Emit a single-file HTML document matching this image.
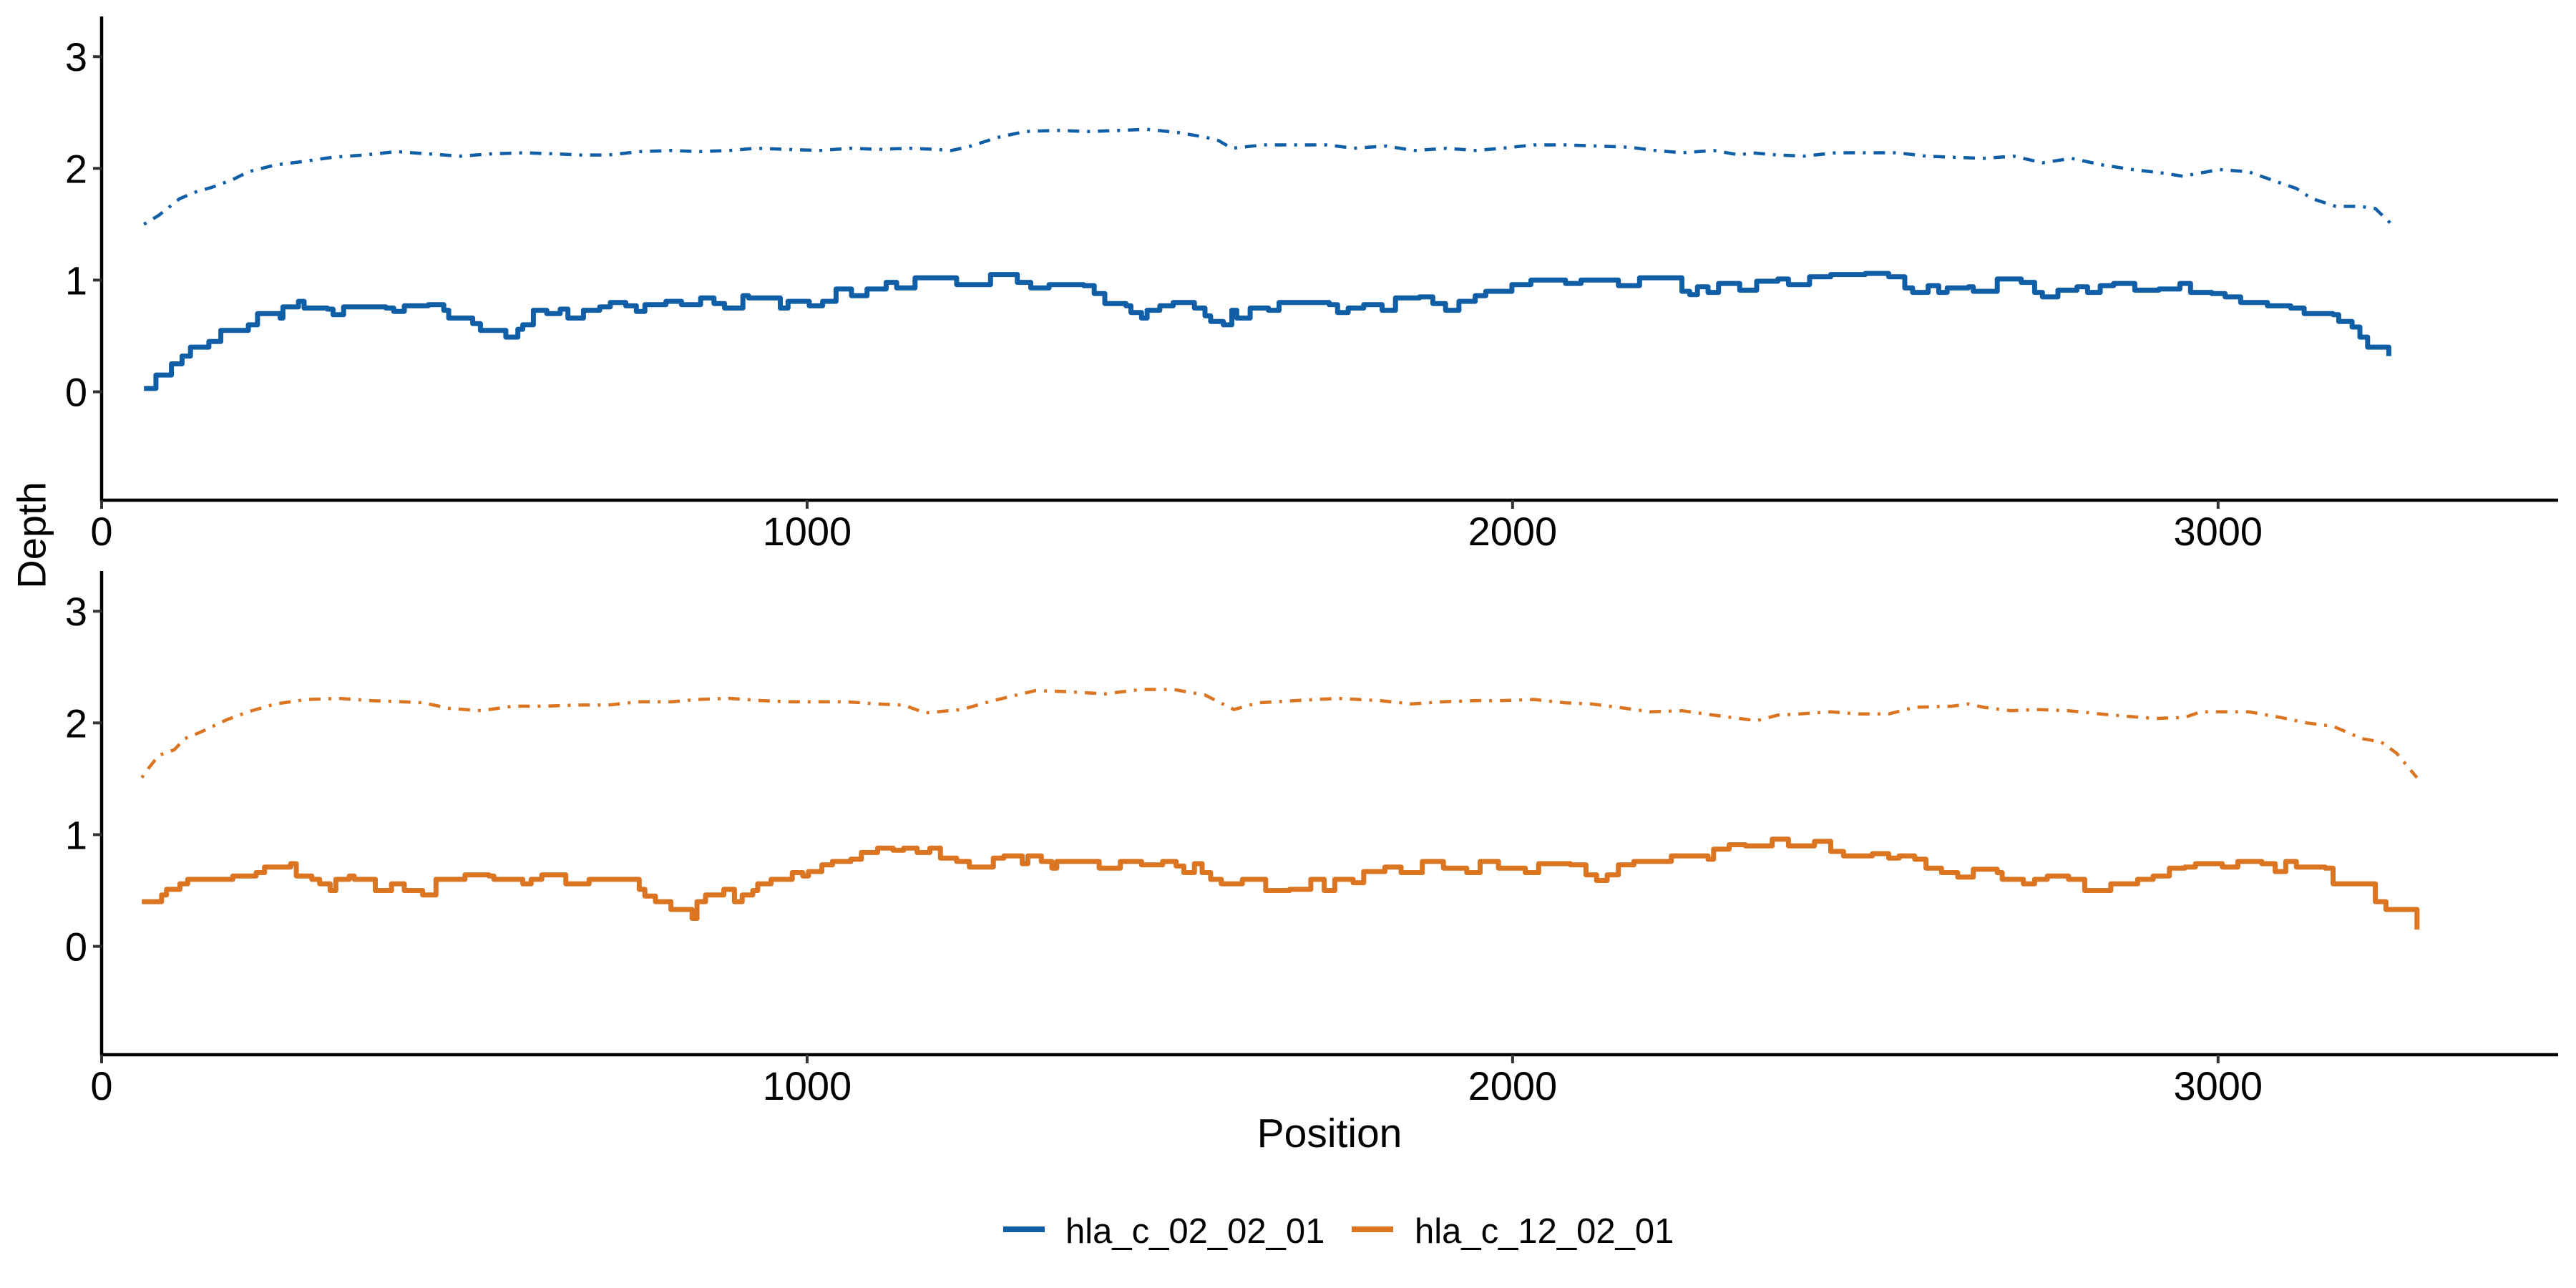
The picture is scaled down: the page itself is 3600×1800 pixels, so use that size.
<!DOCTYPE html>
<html><head><meta charset="utf-8"><style>
html,body{margin:0;padding:0;background:#fff;}
svg{display:block;font-family:"Liberation Sans",Arial,sans-serif;}
</style></head><body>
<svg id="chart" width="3600" height="1800" viewBox="0 0 3600 1800" xmlns="http://www.w3.org/2000/svg">
<g id="panels"></g>
<text x="44" y="748" font-size="56" text-anchor="middle" dominant-baseline="central" transform="rotate(-90 44 748)">Depth</text>
<text x="1858" y="1603" font-size="57" text-anchor="middle">Position</text>
<g>
<line x1="1402" y1="1718" x2="1460" y2="1718" stroke="#105EA6" stroke-width="8"/>
<text x="1489" y="1737" font-size="49">hla_c_02_02_01</text>
<line x1="1889" y1="1718" x2="1947" y2="1718" stroke="#DB7521" stroke-width="8"/>
<text x="1977" y="1737" font-size="49">hla_c_12_02_01</text>
</g>
</svg>
<script>
const xTicks = [0, 1000, 2000, 3000];
const yTicks = [0, 1, 2, 3];
const seriesNames = ["hla_c_02_02_01", "hla_c_12_02_01"];
const aSolidPos = [60,77,99,114,126,152,169,208,221,253,257,279,287,320,328,343,403,414,429,463,485,492,515,526,537,567,573,590,597,612,631,650,661,676,683,706,721,743,758,770,800,822,849,868,883,909,917,951,962,973,1003,1022,1041,1063,1085,1112,1127,1153,1174,1212,1242,1260,1287,1298,1317,1343,1392,1407,1422,1452,1459,1474,1482,1500,1519,1549,1564,1572,1590,1602,1609,1628,1654,1669,1740,1752,1767,1789,1815,1834,1868,1887,1905,1924,1947,1962,1988,1999,2026,2075,2097,2150,2180,2213,2240,2251,2262,2277,2292,2322,2346,2376,2391,2421,2451,2500,2533,2556,2567,2589,2604,2616,2646,2653,2687,2721,2740,2751,2773,2800,2815,2833,2852,2882,2916,2946,2961,2991,3010,3032,3070,3103,3122,3163,3171,3190,3201,3212,3238,3242];
const aSolidVal = [0.03,0.15,0.25,0.32,0.40,0.45,0.55,0.60,0.70,0.66,0.76,0.81,0.75,0.74,0.69,0.76,0.75,0.72,0.77,0.78,0.73,0.66,0.66,0.61,0.55,0.55,0.49,0.56,0.60,0.73,0.70,0.74,0.66,0.66,0.73,0.76,0.80,0.77,0.72,0.78,0.81,0.78,0.84,0.79,0.75,0.86,0.84,0.84,0.75,0.81,0.77,0.81,0.92,0.86,0.92,0.98,0.93,1.02,1.02,0.96,0.96,1.05,1.05,0.98,0.93,0.96,0.95,0.88,0.79,0.77,0.71,0.66,0.73,0.77,0.80,0.75,0.68,0.63,0.60,0.73,0.66,0.75,0.73,0.80,0.78,0.71,0.75,0.78,0.73,0.84,0.85,0.79,0.73,0.81,0.86,0.90,0.90,0.96,1.00,0.97,1.00,0.95,1.02,1.02,0.90,0.87,0.94,0.89,0.97,0.91,0.99,1.01,0.96,1.03,1.05,1.06,1.03,0.93,0.89,0.95,0.89,0.93,0.94,0.90,1.01,0.98,0.89,0.85,0.91,0.94,0.89,0.95,0.97,0.91,0.92,0.97,0.89,0.88,0.85,0.80,0.77,0.75,0.70,0.69,0.63,0.58,0.49,0.40,0.40,0.32];
const aDashPos = [60,81,111,134,156,186,208,246,283,328,373,418,463,508,553,598,643,680,718,763,808,845,890,928,973,1018,1063,1100,1145,1182,1204,1227,1272,1309,1354,1399,1444,1482,1527,1564,1583,1602,1647,1692,1737,1775,1820,1861,1906,1947,1985,2030,2075,2120,2165,2202,2240,2285,2322,2338,2376,2413,2458,2500,2545,2586,2623,2668,2710,2751,2792,2837,2878,2920,2950,2976,3002,3043,3088,3111,3133,3167,3201,3223,3246];
const aDashVal = [1.50,1.58,1.73,1.79,1.83,1.90,1.97,2.03,2.06,2.10,2.12,2.15,2.13,2.11,2.13,2.14,2.13,2.12,2.12,2.15,2.16,2.15,2.16,2.18,2.17,2.16,2.18,2.17,2.18,2.17,2.16,2.19,2.28,2.33,2.34,2.33,2.34,2.35,2.32,2.28,2.25,2.18,2.21,2.21,2.21,2.18,2.20,2.16,2.18,2.16,2.18,2.21,2.21,2.20,2.19,2.16,2.14,2.16,2.12,2.14,2.12,2.11,2.14,2.14,2.14,2.11,2.10,2.09,2.11,2.05,2.09,2.03,1.99,1.96,1.93,1.96,1.99,1.97,1.87,1.82,1.73,1.66,1.66,1.64,1.50];
const bSolidPos = [57,81,85,92,111,122,182,186,219,231,261,268,276,298,309,324,332,351,358,388,411,429,455,474,493,515,549,556,590,597,609,624,654,658,684,691,751,762,770,785,807,837,844,856,882,897,908,923,930,949,972,979,994,1002,1021,1036,1062,1077,1100,1122,1137,1156,1174,1189,1212,1230,1253,1264,1279,1305,1313,1332,1347,1354,1399,1414,1444,1474,1504,1523,1534,1549,1560,1572,1587,1617,1650,1684,1714,1733,1748,1774,1789,1819,1842,1872,1902,1935,1954,1980,2018,2037,2082,2104,2119,2134,2150,2172,2202,2225,2262,2277,2285,2307,2330,2368,2391,2428,2451,2469,2492,2510,2533,2548,2570,2586,2608,2631,2653,2687,2694,2724,2740,2758,2788,2811,2848,2886,2908,2931,2953,2968,3006,3028,3062,3081,3096,3111,3152,3163,3216,3223,3238,3276,3282];
const bSolidVal = [0.40,0.40,0.46,0.51,0.56,0.60,0.60,0.63,0.66,0.71,0.71,0.74,0.63,0.60,0.56,0.50,0.60,0.63,0.60,0.50,0.56,0.50,0.46,0.60,0.60,0.64,0.63,0.60,0.60,0.56,0.60,0.64,0.64,0.56,0.56,0.60,0.60,0.51,0.45,0.40,0.33,0.25,0.40,0.46,0.51,0.40,0.46,0.50,0.56,0.60,0.60,0.66,0.63,0.67,0.73,0.76,0.78,0.84,0.88,0.86,0.88,0.84,0.88,0.79,0.76,0.71,0.71,0.79,0.81,0.74,0.81,0.76,0.70,0.76,0.76,0.70,0.76,0.73,0.76,0.72,0.66,0.74,0.66,0.60,0.56,0.60,0.50,0.51,0.60,0.50,0.60,0.57,0.67,0.71,0.66,0.76,0.70,0.66,0.76,0.70,0.66,0.74,0.73,0.64,0.59,0.64,0.73,0.76,0.76,0.81,0.81,0.78,0.87,0.91,0.90,0.96,0.90,0.94,0.85,0.81,0.81,0.83,0.79,0.81,0.78,0.70,0.66,0.62,0.69,0.66,0.60,0.56,0.60,0.63,0.60,0.50,0.56,0.60,0.63,0.70,0.71,0.74,0.71,0.76,0.74,0.67,0.76,0.71,0.70,0.56,0.56,0.40,0.33,0.33,0.15];
const bDashPos = [57,66,81,103,118,141,178,208,246,291,336,381,426,456,493,538,583,628,673,718,763,808,845,890,935,972,1017,1055,1100,1137,1167,1219,1264,1324,1369,1422,1474,1519,1564,1605,1639,1692,1752,1812,1857,1902,1947,1985,2030,2075,2112,2150,2195,2240,2285,2322,2346,2376,2406,2451,2488,2533,2570,2623,2646,2668,2706,2743,2788,2833,2871,2912,2953,2976,3006,3043,3088,3126,3163,3204,3231,3253,3274,3282];
const bDashVal = [1.51,1.59,1.71,1.76,1.86,1.92,2.03,2.10,2.17,2.21,2.22,2.20,2.19,2.18,2.13,2.11,2.15,2.15,2.16,2.16,2.19,2.19,2.21,2.22,2.20,2.19,2.19,2.19,2.17,2.16,2.09,2.12,2.20,2.29,2.28,2.26,2.30,2.30,2.25,2.12,2.18,2.20,2.22,2.20,2.17,2.19,2.20,2.20,2.21,2.18,2.17,2.14,2.10,2.11,2.07,2.04,2.02,2.07,2.08,2.10,2.08,2.08,2.14,2.15,2.17,2.14,2.11,2.12,2.11,2.08,2.06,2.04,2.05,2.10,2.10,2.10,2.05,2.00,1.97,1.86,1.83,1.73,1.57,1.51];

const NS = "http://www.w3.org/2000/svg";
const X0 = 142, X1 = 3575, XMIN = 0, XMAX = 3482;
const YMIN = -0.97, YMAX = 3.36;
const xScale = v => X0 + (v - XMIN) / (XMAX - XMIN) * (X1 - X0);
const panels = [
  {top: 23, bottom: 699, color: "#105EA6", sp: aSolidPos, sv: aSolidVal, dp: aDashPos, dv: aDashVal, key: "top"},
  {top: 798, bottom: 1474, color: "#DB7521", sp: bSolidPos, sv: bSolidVal, dp: bDashPos, dv: bDashVal, key: "bottom"}
];
const root = document.getElementById("panels");
function mk(tag, attrs) {
  const el = document.createElementNS(NS, tag);
  for (const k in attrs) el.setAttribute(k, attrs[k]);
  return el;
}
panels.forEach((p, pi) => {
  const yScale = v => p.bottom - (v - YMIN) / (YMAX - YMIN) * (p.bottom - p.top);
  const g = mk("g", {});
  
  
  root.appendChild(g);
  // dashed series
  let d = "";
  p.dp.forEach((x, i) => { d += (i ? "L" : "M") + xScale(x).toFixed(1) + "," + yScale(p.dv[i]).toFixed(1); });
  const dash = mk("path", {d: d, fill: "none", stroke: p.color, "stroke-width": 4.5, "stroke-dasharray": "4 11 16 11"});
  
  
  g.appendChild(dash);
  // step solid series
  let s = "";
  p.sp.forEach((x, i) => {
    const X = xScale(x).toFixed(1), Y = yScale(p.sv[i]).toFixed(1);
    if (i === 0) s += "M" + X + "," + Y;
    else s += "H" + X + "V" + Y;
  });
  const sol = mk("path", {d: s, fill: "none", stroke: p.color, "stroke-width": 7, "stroke-linejoin": "round"});
  
  
  g.appendChild(sol);
  // axes
  const ya = mk("line", {x1: X0, y1: p.top, x2: X0, y2: p.bottom + 2, stroke: "#000", "stroke-width": 4.5});
  
  
  g.appendChild(ya);
  const xa = mk("line", {x1: X0 - 2, y1: p.bottom, x2: X1, y2: p.bottom, stroke: "#000", "stroke-width": 4.5});
  
  
  g.appendChild(xa);
  yTicks.forEach(t => {
    const y = yScale(t);
    const tk = mk("line", {x1: X0 - 12, y1: y, x2: X0, y2: y, stroke: "#333", "stroke-width": 4});
    
    
    g.appendChild(tk);
    const tl = mk("text", {x: X0 - 20, y: y + 20, "font-size": 56, "text-anchor": "end", fill: "#000"});
    tl.textContent = String(t);
    
    
    g.appendChild(tl);
  });
  xTicks.forEach(t => {
    const x = xScale(t);
    const tk = mk("line", {x1: x, y1: p.bottom, x2: x, y2: p.bottom + 12, stroke: "#333", "stroke-width": 4});
    
    
    g.appendChild(tk);
    const tl = mk("text", {x: x, y: p.bottom + 63, "font-size": 56, "text-anchor": "middle", fill: "#000"});
    tl.textContent = String(t);
    
    
    g.appendChild(tl);
  });
});
</script>
</body></html>
